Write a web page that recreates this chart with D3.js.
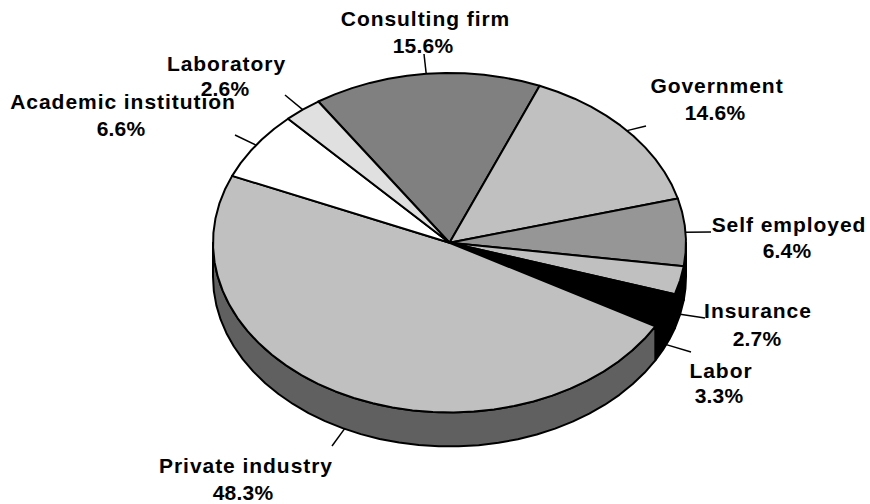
<!DOCTYPE html>
<html>
<head>
<meta charset="utf-8">
<script src="https://cdnjs.cloudflare.com/ajax/libs/d3/7.9.0/d3.min.js"></script>
<style>
  html, body { margin: 0; padding: 0; background: #fff; }
  text { font-family: "Liberation Sans", Arial, sans-serif; font-weight: 700; font-size: 21px; fill: #000; }
  .name { letter-spacing: 0.95px; }
  .pct { letter-spacing: 0.2px; }
</style>
</head>
<body>
<svg id="chart" width="870" height="504"></svg>
<script>
/************** Data, clockwise from the top-left slice **************/
const categories = ["Consulting firm", "Government", "Self employed", "Insurance", "Labor", "Private industry", "Academic institution", "Laboratory"];
const shares = [15.6, 14.6, 6.4, 2.7, 3.3, 48.3, 6.6, 2.6];
const topColors = ["#808080", "#c0c0c0", "#969696", "#c0c0c0", "#000000", "#c0c0c0", "#ffffff", "#e0e0e0"];
const wallColors = ["#808080", "#c0c0c0", "#000000", "#000000", "#000000", "#606060", "#ffffff", "#e0e0e0"];

// label centres + baselines, and where each leader line stops
const labelX = [425.5, 717, 789, 758, 721, 246, 123, 226.5];
const pctX = [423, 715, 787, 757, 719, 243, 121, 225];
const labelY = [26, 93, 232, 318, 378, 473, 109, 71];
const pctY = [53, 120, 258, 346, 403, 500, 136, 96];
const leaderEndX = [424, 646, 711, 705, 691, 332, 235, 285];
const leaderEndY = [54, 126, 232, 318, 352, 446, 135, 95];

const depth = 34;
const facet = 5 * Math.PI / 180;   // the edge is faceted in the original too

const x = d3.scaleLinear().domain([-1, 1]).range([213, 686]);
const y = d3.scaleLinear().domain([-1, 1]).range([412.5, 73]);

const svg = d3.select("#chart");

const arcs = d3.pie().sort(null)
  .startAngle(-33.7 * Math.PI / 180)
  .endAngle(326.3 * Math.PI / 180)(shares);

const rimX = a => x(Math.sin(a));
const rimY = a => y(Math.cos(a));

// angles from a0 to a1, one per facet
function rimAngles(a0, a1) {
  const n = Math.max(1, Math.ceil((a1 - a0) / facet));
  return d3.range(n + 1).map(i => a0 + (a1 - a0) * i / n);
}

const line = d3.line();

function topPath(d) {
  const pts = [[x(0), y(0)]].concat(rimAngles(d.startAngle, d.endAngle).map(a => [rimX(a), rimY(a)]));
  return line(pts) + "Z";
}

// only the part of a slice between 90 and 270 degrees faces the viewer
function wallPath(d) {
  const a0 = Math.max(d.startAngle, Math.PI / 2);
  const a1 = Math.min(d.endAngle, 3 * Math.PI / 2);
  if (a1 <= a0) return null;
  const angles = rimAngles(a0, a1);
  const upper = angles.map(a => [rimX(a), rimY(a)]);
  const lower = angles.slice().reverse().map(a => [rimX(a), rimY(a) + depth]);
  return line(upper.concat(lower)) + "Z";
}

/************** Pie **************/
svg.append("g").selectAll("path")
  .data(arcs.filter(d => wallPath(d)))
  .join("path")
    .attr("d", wallPath)
    .attr("fill", d => wallColors[d.index])
    .attr("stroke", "#000").attr("stroke-width", 2).attr("stroke-linejoin", "round");

svg.append("g").selectAll("path")
  .data(arcs)
  .join("path")
    .attr("d", topPath)
    .attr("fill", d => topColors[d.index])
    .attr("stroke", "#000").attr("stroke-width", 2).attr("stroke-linejoin", "round");

/************** Leader lines + labels **************/
const midAngle = d => (d.startAngle + d.endAngle) / 2;
const isFront = a => a > Math.PI / 2 && a < 3 * Math.PI / 2;

svg.append("g").selectAll("line")
  .data(arcs)
  .join("line")
    .attr("x1", d => rimX(midAngle(d)))
    .attr("y1", d => rimY(midAngle(d)) + (isFront(midAngle(d)) ? depth : 0))
    .attr("x2", (d, i) => leaderEndX[i])
    .attr("y2", (d, i) => leaderEndY[i])
    .attr("stroke", "#000").attr("stroke-width", 1.5);

const labels = svg.append("g").selectAll("text")
  .data(categories)
  .join("text")
    .attr("text-anchor", "middle");

labels.append("tspan")
  .attr("class", "name")
  .attr("x", (d, i) => labelX[i])
  .attr("y", (d, i) => labelY[i])
  .text(d => d);
labels.append("tspan")
  .attr("class", "pct")
  .attr("x", (d, i) => pctX[i])
  .attr("y", (d, i) => pctY[i])
  .text((d, i) => shares[i].toFixed(1) + "%");
</script>
</body>
</html>
